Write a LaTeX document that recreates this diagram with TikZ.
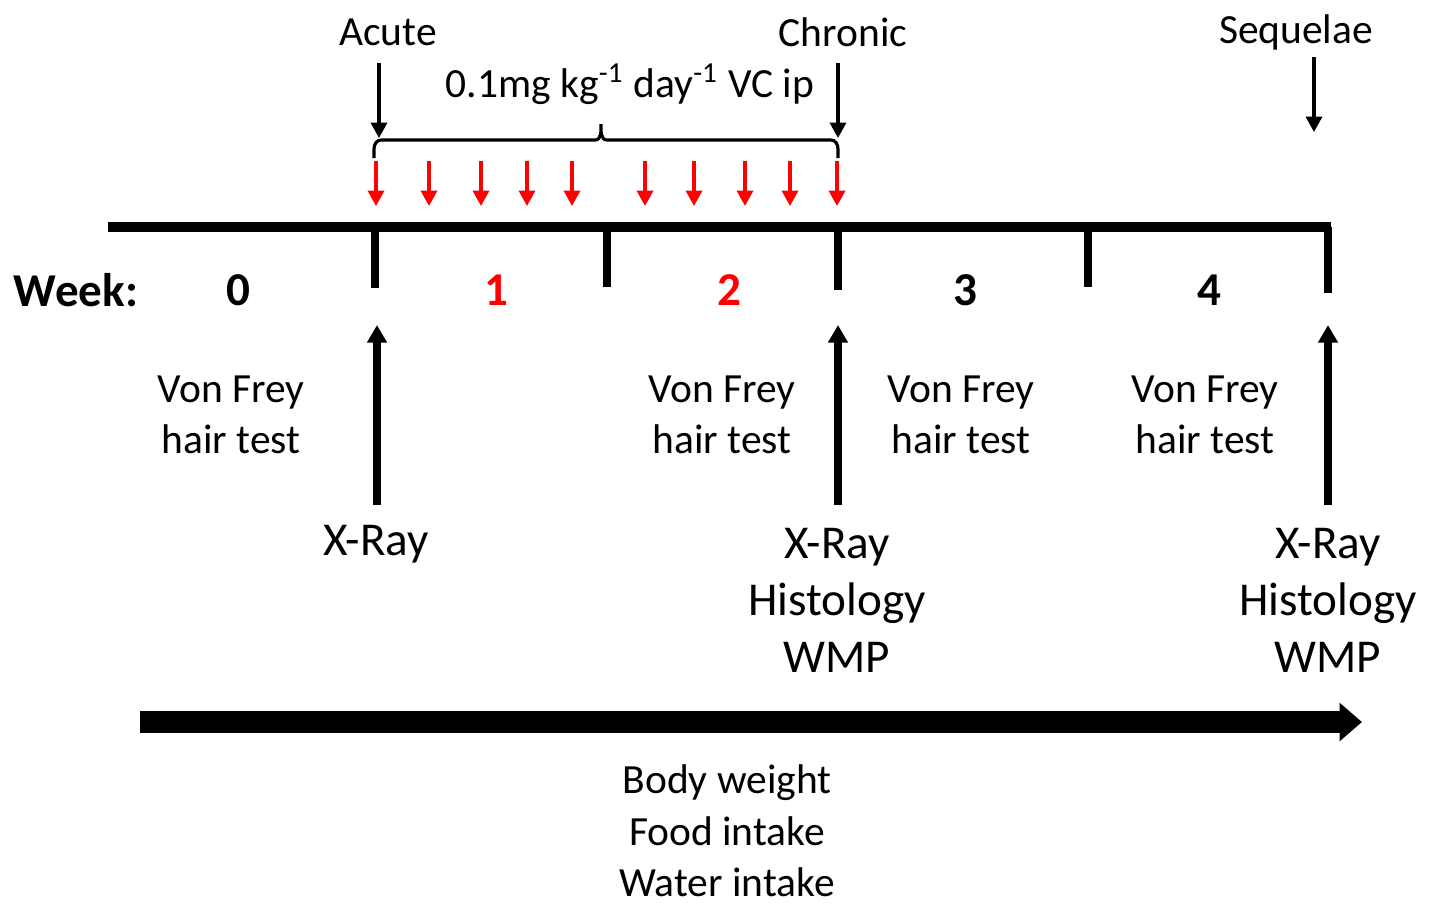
\documentclass[tikz,border=0pt]{standalone}
\usepackage{fontspec}
\setmainfont{Carlito}
\usetikzlibrary{arrows.meta}

\begin{document}
\begin{tikzpicture}[
    x=0.01cm, y=-0.01cm, % one unit = one pixel of the layout
    axis/.style={
        line width=2.6pt
    },
    tickline/.style={
        line width=2pt
    },
    dose/.style={
        -{Triangle[width=4.6pt,length=4.4pt]},
        red,
        line width=0.9pt
    },
    phase/.style={
        -{Triangle[width=4.6pt,length=4.4pt]},
        line width=0.9pt
    },
    probe/.style={
        -{Triangle[width=5.4pt,length=5pt]},
        line width=2.3pt
    },
    bracket/.style={
        line width=0.9pt
    },
    txt/.style={
        font=\fontsize{11.8}{14.5}\selectfont,
        align=center,
        inner sep=0pt
    },
    bigtxt/.style={
        font=\fontsize{13.4}{16.2}\selectfont,
        align=center,
        inner sep=0pt
    },
    weektxt/.style={
        font=\fontsize{13.4}{16}\selectfont\bfseries,
        inner sep=0pt
    }
]
    \useasboundingbox (0,0) rectangle (1430,911);

    % Timeline
    \coordinate (t0) at (108,227);
    \coordinate (t5) at (1331,227);
    \draw[axis] (t0) -- (t5);
    \foreach \x/\y [count=\i] in {375/288, 607/287, 838/290, 1088/287, 1328/293} {
        \coordinate (k\i) at (\x,227);
        \coordinate (kb\i) at (\x,\y);
        \draw[tickline] (k\i) -- (kb\i);
    }

    % Week labels
    \node[weektxt] (week) at (76,290) {Week:};
    \foreach \x/\n/\c in {238/0/black, 496/1/red, 729/2/red, 965/3/black, 1209/4/black} {
        \node[weektxt, text=\c] (w\n) at (\x,290) {\n};
    }

    % Phases
    \node[txt] (acute) at (388,32) {Acute};
    \node[txt] (chronic) at (843,32) {Chronic};
    \node[txt] (sequelae) at (1296,32) {Sequelae};
    \node[txt] (dosage) at (630,84) {0.1mg kg\textsuperscript{-1} day\textsuperscript{-1} VC ip};

    \coordinate (a1) at (379,63);
    \coordinate (a2) at (379,138);
    \coordinate (c1) at (838,63);
    \coordinate (c2) at (838,138);
    \coordinate (s1) at (1314,57);
    \coordinate (s2) at (1314,132);
    \draw[phase] (a1) -- (a2);
    \draw[phase] (c1) -- (c2);
    \draw[phase] (s1) -- (s2);

    % Brace over the injections
    \coordinate (b1) at (374,158);
    \coordinate (b2) at (838,158);
    \coordinate (btip) at (601,124);
    \draw[bracket] (b1) -- ++(0,-9) to[out=90,in=180] ++(7,-9) -- (595,140)
        to[out=0,in=-90] (btip) to[out=-90,in=180] (607,140) -- (831,140)
        to[out=0,in=90] ++(7,9) -- (b2);

    % Daily injections
    \foreach \x [count=\i] in {376, 429, 481, 527, 572, 645, 694, 745, 790, 837} {
        \coordinate (d\i) at (\x,161);
        \coordinate (e\i) at (\x,206);
        \draw[dose] (d\i) -- (e\i);
    }

    % Tests
    \foreach \x [count=\i] in {231, 722, 961, 1205} {
        \node[txt] (vf\i) at (\x,415) {Von Frey\\hair test};
    }

    \coordinate (p1) at (377,505);
    \coordinate (q1) at (377,325);
    \coordinate (p2) at (838,505);
    \coordinate (q2) at (838,325);
    \coordinate (p3) at (1328,505);
    \coordinate (q3) at (1328,325);
    \draw[probe] (p1) -- (q1);
    \draw[probe] (p2) -- (q2);
    \draw[probe] (p3) -- (q3);

    \node[bigtxt] (xray1) at (376,544) {X-Ray};
    \node[bigtxt] (xray2) at (837,600) {X-Ray\\Histology\\WMP};
    \node[bigtxt] (xray3) at (1328,600) {X-Ray\\Histology\\WMP};

    % Whole period
    \coordinate (m1) at (140,722);
    \coordinate (m2) at (1362,722);
    \draw[line width=6pt, -{Triangle[width=10.6pt,length=6.4pt]}] (m1) -- (m2);

    \node[txt, font=\fontsize{11.8}{14.6}\selectfont] (monitor) at (727,831) {Body weight\\Food intake\\Water intake};
\end{tikzpicture}
\end{document}
